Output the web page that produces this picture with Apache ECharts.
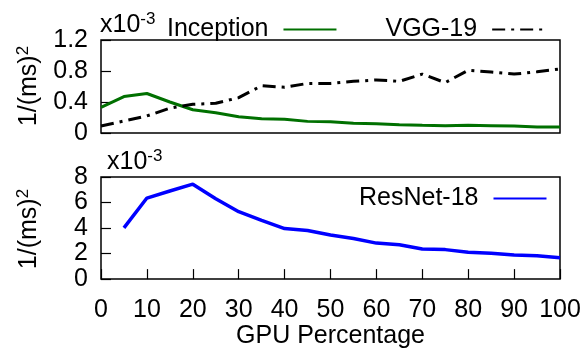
<!DOCTYPE html>
<html>
<head>
<meta charset="utf-8">
<script src="https://cdn.jsdelivr.net/npm/echarts@6/dist/echarts.min.js"></script>
<style>
  html, body { margin: 0; padding: 0; background: #fff; }
  #chart { width: 587px; height: 350px; }
</style>
</head>
<body>
<div id="chart"></div>
<script>
// GPU share (%) on the x axis
const gpuPct = [0, 5, 10, 15, 20, 25, 30, 35, 40, 45, 50, 55, 60, 65, 70, 75, 80, 85, 90, 95, 100];
// Upper panel, values in units of 1e-3 (1/ms^2)
const inception = [0.33, 0.47, 0.51, 0.40, 0.30, 0.26, 0.21, 0.185, 0.176, 0.15, 0.145, 0.125, 0.12, 0.107, 0.10, 0.095, 0.10, 0.095, 0.09, 0.077, 0.077];
const vgg19 = [0.09, 0.155, 0.22, 0.32, 0.37, 0.383, 0.456, 0.61, 0.59, 0.64, 0.64, 0.667, 0.684, 0.667, 0.76, 0.65, 0.81, 0.787, 0.76, 0.79, 0.826];
// Lower panel, values in units of 1e-3 (1/ms^2)
const resnetPct = [5, 10, 15, 20, 25, 30, 35, 40, 45, 50, 55, 60, 65, 70, 75, 80, 85, 90, 95, 100];
const resnet18 = [4.01, 6.35, 6.9, 7.44, 6.3, 5.28, 4.6, 3.96, 3.81, 3.45, 3.18, 2.82, 2.69, 2.36, 2.31, 2.11, 2.03, 1.88, 1.83, 1.68];
// Axis ticks
const xTicks = { min: 0, max: 100, step: 10 };
const topTicks = { min: 0, max: 1.2, step: 0.4 };
const bottomTicks = { min: 0, max: 8, step: 2 };

const FONT = 'Liberation Sans';
const BLACK = '#000';
const pairs = (xs, ys) => xs.map((x, i) => [x, ys[i]]);

const chart = echarts.init(document.getElementById('chart'), null, { renderer: 'canvas' });

const baseText = { fontFamily: FONT, fontSize: 25, color: BLACK };

function xAxisFor(gridIndex, showLabels) {
  return {
    type: 'value', gridIndex,
    min: xTicks.min, max: xTicks.max, interval: xTicks.step,
    axisLine: { show: false },
    axisTick: { show: showLabels, inside: true, length: 10, lineStyle: { color: BLACK, width: 1.2 } },
    axisLabel: { show: showLabels, ...baseText, margin: 19 },
    splitLine: { show: false }
  };
}
function yAxisFor(gridIndex, t) {
  return {
    type: 'value', gridIndex,
    min: t.min, max: t.max, interval: t.step,
    axisLine: { show: false },
    axisTick: { show: true, inside: true, length: 10, lineStyle: { color: BLACK, width: 1.2 } },
    axisLabel: { ...baseText, margin: 13 },
    splitLine: { show: false }
  };
}

const richScale = {
  m: { fontFamily: FONT, fontSize: 25, color: BLACK },
  s: { fontFamily: FONT, fontSize: 17, color: BLACK, padding: [0, 0, 12, 0] }
};

const legendCommon = {
  align: 'right', itemWidth: 53, itemHeight: 14,
  itemStyle: { opacity: 0 },
  textStyle: { ...baseText, padding: [0, 10, 0, 0] }
};

chart.setOption({
  animation: false,
  backgroundColor: '#fff',
  grid: [
    { left: 101, top: 40, width: 459, height: 93, show: true, borderColor: BLACK, borderWidth: 1.5, backgroundColor: 'transparent' },
    { left: 101, top: 177, width: 459, height: 105, show: true, borderColor: BLACK, borderWidth: 1.5, backgroundColor: 'transparent' }
  ],
  xAxis: [xAxisFor(0, false), Object.assign(xAxisFor(1, true), {
    name: 'GPU Percentage', nameLocation: 'middle', nameGap: 38,
    nameTextStyle: { ...baseText }
  })],
  yAxis: [yAxisFor(0, topTicks), yAxisFor(1, bottomTicks)],
  legend: [
    Object.assign({ data: ['Inception', 'VGG-19'], left: 162, top: 12, itemGap: 48 }, legendCommon),
    Object.assign({ data: ['ResNet-18'], left: 354, top: 181 }, legendCommon)
  ],
  graphic: [
    { type: 'text', left: 100, top: 11, style: { text: '{m|x10}{s|-3}', rich: richScale } },
    { type: 'text', left: 107, top: 148, style: { text: '{m|x10}{s|-3}', rich: richScale } },
    { type: 'text', x: 29, y: 86, rotation: Math.PI / 2,
      style: { text: '{m|1/(ms)}{s|2}', rich: richScale, align: 'center', verticalAlign: 'middle' } },
    { type: 'text', x: 29, y: 229, rotation: Math.PI / 2,
      style: { text: '{m|1/(ms)}{s|2}', rich: richScale, align: 'center', verticalAlign: 'middle' } }
  ],
  series: [
    {
      name: 'Inception', type: 'line', xAxisIndex: 0, yAxisIndex: 0,
      data: pairs(gpuPct, inception), symbol: 'none',
      lineStyle: { color: '#007000', width: 3 }, itemStyle: { color: '#007000' }
    },
    {
      name: 'VGG-19', type: 'line', xAxisIndex: 0, yAxisIndex: 0,
      data: pairs(gpuPct, vgg19), symbol: 'none',
      lineStyle: { color: BLACK, width: 3, type: [13, 6, 3, 6] }, itemStyle: { color: BLACK }
    },
    {
      name: 'ResNet-18', type: 'line', xAxisIndex: 1, yAxisIndex: 1,
      data: pairs(resnetPct, resnet18), symbol: 'none',
      lineStyle: { color: '#0000ff', width: 3.5 }, itemStyle: { color: '#0000ff' }
    }
  ]
});
</script>
</body>
</html>
